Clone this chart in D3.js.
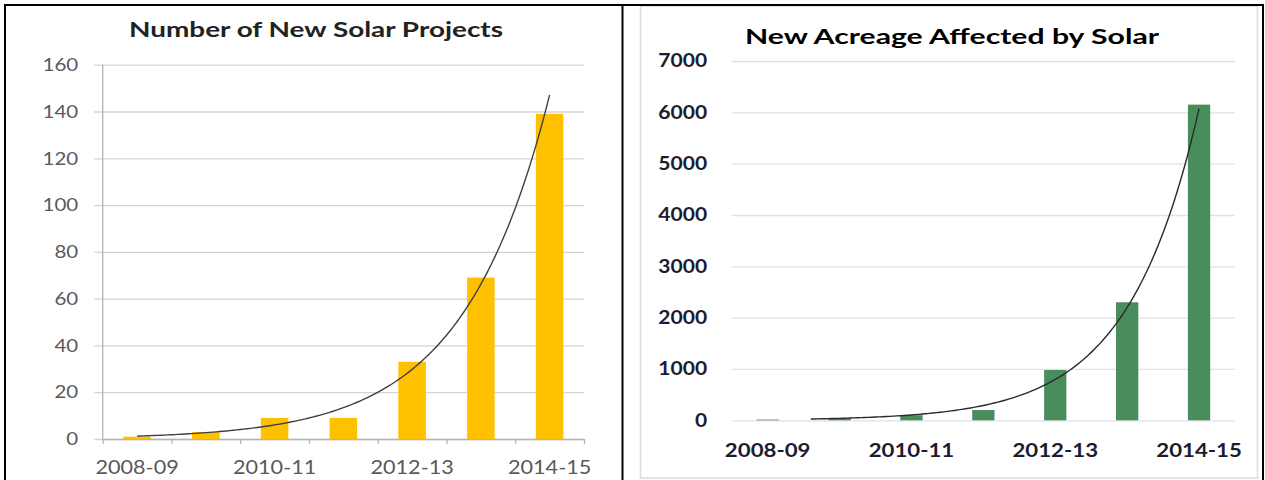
<!DOCTYPE html>
<html><head><meta charset="utf-8">
<script src="https://cdn.jsdelivr.net/npm/d3@7"></script>
<style>body{margin:0;background:#fff}svg{display:block}</style>
</head><body><svg id="c" width="1265" height="480"></svg>
<script>
// ---- data ----
const categories = ["2008-09","2009-10","2010-11","2011-12","2012-13","2013-14","2014-15"];
const xTickLabels = ["2008-09","2010-11","2012-13","2014-15"];
const projects = [1, 3, 9, 9, 33, 69, 139];
const acreage = [15, 40, 100, 200, 980, 2300, 6150];
const projectTicks = [0,20,40,60,80,100,120,140,160];
const acreageTicks = [0,1000,2000,3000,4000,5000,6000,7000];
const titleLeft = "Number of New Solar Projects";
const titleRight = "New Acreage Affected by Solar";

const W = 1265, H = 480;
const svg = d3.select("#c");
svg.append("rect").attr("width", W).attr("height", H).attr("fill", "#fff");

// exponential (Excel-style) trendline fitted by least squares on ln(y)
function expFit(vals) {
  const xs = vals.map((_, i) => i + 1), ls = vals.map(v => Math.log(v));
  const mx = d3.mean(xs), ml = d3.mean(ls);
  const b = d3.sum(xs, (x, i) => (x - mx) * (ls[i] - ml)) / d3.sum(xs, x => (x - mx) ** 2);
  const a = Math.exp(ml - b * mx);
  return t => a * Math.exp(b * t);
}

function stretchText(sel, sx) {
  sel.each(function () {
    const t = d3.select(this);
    const x = +t.attr("x") || 0, y = +t.attr("y") || 0;
    t.attr("x", null).attr("y", null)
     .attr("transform", `translate(${x},${y}) scale(${sx},1)`);
  });
}

function drawChart(cfg) {
  const g = svg.append("g");
  const x = d3.scaleBand().domain(categories).range([cfg.x0, cfg.x1])
    .paddingInner(cfg.pad).paddingOuter(cfg.pad / 2);
  const y = d3.scaleLinear().domain([0, cfg.max]).range([cfg.y0, cfg.y1]);

  // gridlines + y labels
  const ya = d3.axisLeft(y).tickValues(cfg.ticks).tickSizeInner(-(cfg.x1 - cfg.x0))
    .tickSizeOuter(0).tickPadding(cfg.yLabelPad).tickFormat(d3.format("d"));
  const yg = g.append("g").attr("transform", `translate(${cfg.x0},0)`).call(ya);
  yg.select(".domain").remove();
  yg.selectAll("line").attr("stroke", cfg.gridColor).attr("stroke-width", 1.3)
    .attr("x1", -cfg.yTick);
  yg.selectAll("text").attr("fill", cfg.labelColor).attr("font-family", "Lato")
    .attr("font-size", cfg.yFont).attr("font-weight", cfg.labelWeight);
  stretchText(yg.selectAll("text"), cfg.stretch);

  // x axis line / boundary ticks
  if (cfg.axisLine) {
    const xl = d3.scaleLinear().domain([0, categories.length]).range([cfg.x0, cfg.x1]);
    const xa = d3.axisBottom(xl).tickValues(d3.range(categories.length + 1))
      .tickSizeInner(5).tickSizeOuter(0).tickFormat("");
    const xg = g.append("g").attr("transform", `translate(0,${y(0)})`).call(xa);
    xg.selectAll("line,path").attr("stroke", cfg.axisColor).attr("stroke-width", 1.3);
    g.append("line").attr("x1", cfg.x0).attr("x2", cfg.x0)
      .attr("y1", y(0)).attr("y2", y(cfg.max))
      .attr("stroke", cfg.axisColor).attr("stroke-width", 1.3);
  }

  // x labels
  const xb = d3.axisBottom(x).tickValues(xTickLabels).tickSize(0).tickPadding(cfg.xLabelPad);
  const xg2 = g.append("g").attr("transform", `translate(0,${y(0)})`).call(xb);
  xg2.select(".domain").remove();
  xg2.selectAll("text").attr("fill", cfg.labelColor).attr("font-family", "Lato")
    .attr("font-size", cfg.xFont).attr("font-weight", cfg.labelWeight);
  stretchText(xg2.selectAll("text"), cfg.stretch);

  // bars
  g.append("g").selectAll("rect").data(cfg.values).join("rect")
    .attr("x", (d, i) => x(categories[i]))
    .attr("width", x.bandwidth())
    .attr("y", d => y(d))
    .attr("height", d => y(0) - y(d))
    .attr("fill", cfg.barColor);

  // exponential trendline
  const f = expFit(cfg.values);
  const xc = d3.scaleLinear().domain([1, categories.length])
    .range([x(categories[0]) + x.bandwidth() / 2, x(categories[categories.length - 1]) + x.bandwidth() / 2]);
  const pts = d3.range(cfg.trendStart, categories.length + 0.001, 0.05).map(t => [xc(t), y(f(t))]);
  g.append("path").attr("d", d3.line()(pts)).attr("fill", "none")
    .attr("stroke", cfg.trendColor).attr("stroke-width", 1.4);

  // title
  g.append("text").attr("x", cfg.titleX).attr("y", cfg.titleY)
    .attr("text-anchor", "middle").attr("font-family", "Lato").attr("font-weight", 700)
    .attr("font-size", cfg.titleFont).attr("fill", cfg.titleColor)
    .attr("textLength", cfg.titleW).attr("lengthAdjust", "spacingAndGlyphs")
    .text(cfg.title);
}

// right chart frame
svg.append("rect").attr("x", 640.5).attr("y", 6).attr("width", 617).attr("height", 472)
  .attr("fill", "none").attr("stroke", "#dcdcdc").attr("stroke-width", 1.5);

drawChart({
  values: projects, ticks: projectTicks, max: 160,
  x0: 102.7, x1: 584, y0: 439, y1: 64.7, pad: 0.6,
  gridColor: "#d4d4d4", axisColor: "#b4b4b4", axisLine: true, yTick: 8.5,
  labelColor: "#595959", labelWeight: 400, yFont: 18, xFont: 19, stretch: 1.14,
  yLabelPad: 24.5, xLabelPad: 21.5,
  barColor: "#ffc000", trendColor: "#404040", trendStart: 1,
  title: titleLeft, titleX: 316, titleY: 37, titleFont: 21, titleW: 374, titleColor: "#222"
});

drawChart({
  values: acreage, ticks: acreageTicks, max: 7000,
  x0: 731.7, x1: 1235, y0: 420.3, y1: 61, pad: 0.69,
  gridColor: "#e1e1e1", axisColor: "#e1e1e1", axisLine: false, yTick: 0,
  labelColor: "#1c1c30", labelWeight: 700, yFont: 18, xFont: 19, stretch: 1.17,
  yLabelPad: 24.5, xLabelPad: 23,
  barColor: "#4a8d5d", trendColor: "#2a2a2a", trendStart: 1.6,
  title: titleRight, titleX: 952, titleY: 44, titleFont: 21, titleW: 414, titleColor: "#000"
});

// table borders (black)
const bl = svg.append("g").attr("fill", "#000");
bl.append("rect").attr("x", 4).attr("y", 4).attr("width", 1260).attr("height", 2);
bl.append("rect").attr("x", 4).attr("y", 4).attr("width", 2).attr("height", 476);
bl.append("rect").attr("x", 621.5).attr("y", 4).attr("width", 2).attr("height", 476);
bl.append("rect").attr("x", 1262).attr("y", 4).attr("width", 2).attr("height", 476);
</script>
</body></html>
